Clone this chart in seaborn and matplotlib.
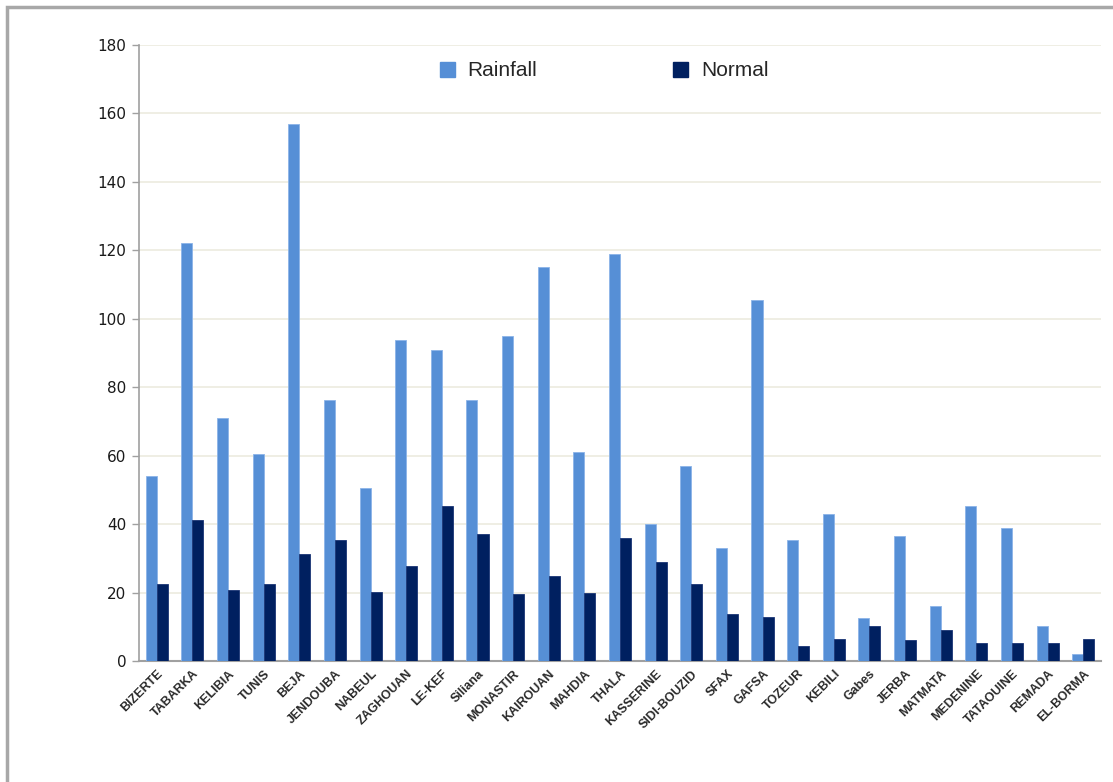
import matplotlib
matplotlib.use("Agg")
import matplotlib.pyplot as plt
import matplotlib.patches as mpatches
import seaborn as sns
import pandas as pd

stations = ["BIZERTE", "TABARKA", "KELIBIA", "TUNIS", "BEJA", "JENDOUBA", "NABEUL",
            "ZAGHOUAN", "LE-KEF", "Siliana", "MONASTIR", "KAIROUAN", "MAHDIA", "THALA",
            "KASSERINE", "SIDI-BOUZID", "SFAX", "GAFSA", "TOZEUR", "KEBILI", "Gabes",
            "JERBA", "MATMATA", "MEDENINE", "TATAOUINE", "REMADA", "EL-BORMA"]
rainfall = [54, 122, 71, 60.5, 157, 76.3, 50.5, 93.7, 91, 76.3, 95, 115, 61, 119,
            40, 57, 33, 105.5, 35.3, 43, 12.5, 36.5, 16, 45.2, 39, 10.2, 2]
normal = [22.4, 41.2, 20.7, 22.4, 31.2, 35.3, 20.1, 27.7, 45.3, 37, 19.5, 24.8, 20,
          35.8, 28.8, 22.4, 13.6, 13, 4.3, 6.5, 10.2, 6, 9, 5.4, 5.4, 5.4, 6.5]
series = ["Rainfall", "Normal"]
colors = ["#568fd6", "#002060"]

df = pd.DataFrame({
    "station": stations * 2,
    "value": rainfall + normal,
    "series": [series[0]] * len(stations) + [series[1]] * len(stations),
})

sns.set_theme(style="white")
plt.rcParams["font.family"] = ["DejaVu Sans"]

fig = plt.figure(figsize=(11.13, 7.82), dpi=100)
ax = fig.add_axes([139 / 1113, 1 - 661 / 782, (1101 - 139) / 1113, (661 - 45) / 782])

sns.barplot(data=df, x="station", y="value", hue="series", palette=colors,
            width=0.62, gap=0, saturation=1, ax=ax, legend=False, zorder=3)
for i, bar in enumerate(ax.patches):
    bar.set_edgecolor("#8cb4e8" if i < len(stations) else "#1a3575")
    bar.set_linewidth(0.6)

ax.set_ylim(0, 180)
ax.set_xlim(-0.5, len(stations) - 0.5)
ax.set_yticks(range(0, 181, 20))
ax.yaxis.grid(True, color="#ecebdf", linewidth=1.2, zorder=0)
ax.set_axisbelow(True)
ax.set_xlabel("")
ax.set_ylabel("")

for side in ["top", "right"]:
    ax.spines[side].set_visible(False)
ax.spines["left"].set_color("#a0a0a0")
ax.spines["bottom"].set_color("#a0a0a0")
ax.spines["left"].set_linewidth(1.2)
ax.spines["bottom"].set_linewidth(1.5)

ax.tick_params(axis="y", length=5, width=1, color="#a0a0a0", labelsize=11,
               labelcolor="#1a1a1a", pad=4, left=True)
ax.tick_params(axis="x", length=0, pad=5)
ax.set_xticks(range(len(stations)))
ax.set_xticklabels(stations, rotation=45, ha="right", rotation_mode="anchor",
                   fontsize=9, fontweight="bold", color="#2a2a2a",
                   family=["Liberation Sans", "DejaVu Sans"])

handles = [mpatches.Patch(facecolor=c, edgecolor=c) for c in colors]
fig.legend(handles, series, loc="center", bbox_to_anchor=(604 / 1113, 1 - 71 / 782),
           ncol=2, frameon=False, handlelength=0.75, handleheight=0.75,
           handletextpad=0.6, columnspacing=6.5,
           prop={"family": "Liberation Sans", "size": 15})

# outer chart frame
fig.patches.append(mpatches.Rectangle((7 / 1113, -0.05), 1.1, 1 - 7 / 782 + 0.05,
                                      transform=fig.transFigure, fill=False,
                                      edgecolor="#a8a8a8", linewidth=2.5))

fig.savefig("out.png", dpi=100, facecolor="white")
